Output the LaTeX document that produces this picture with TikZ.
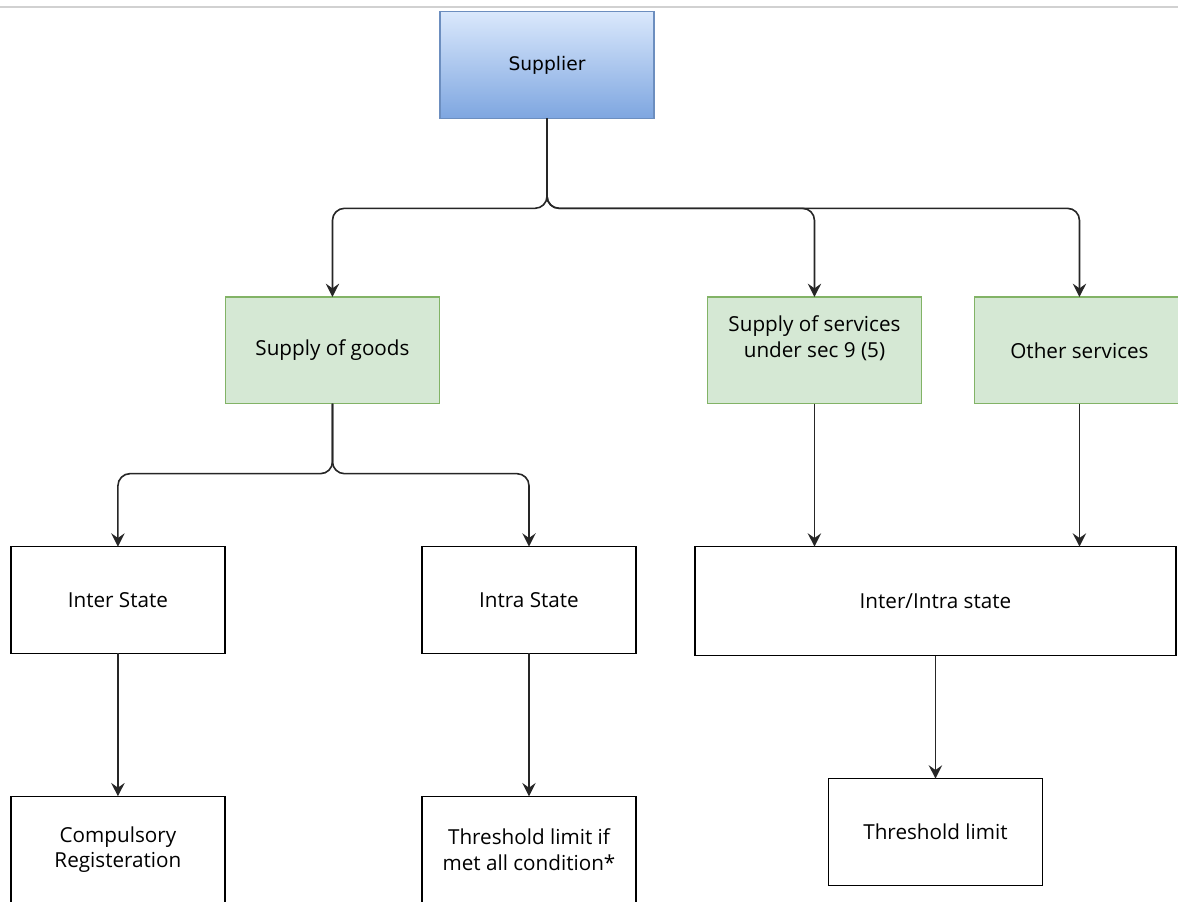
\documentclass[tikz,border=0pt]{standalone}
\usepackage{fontspec}
\setmainfont{Open Sans}
\newfontfamily\headfont{DejaVu Sans}
\usetikzlibrary{positioning}
\usetikzlibrary{arrows.meta}

\definecolor{headtop}{HTML}{DAE8FC}
\definecolor{headbot}{HTML}{7EA6E0}
\definecolor{headline}{HTML}{6C8EBF}
\definecolor{catfill}{HTML}{D5E8D4}
\definecolor{catline}{HTML}{82B366}

\begin{document}
\begin{tikzpicture}[
  x=0.75pt, y=0.75pt,
  font=\fontsize{15.5}{19}\selectfont,
  box/.style={draw, line width=1.1pt, align=center, minimum width=160.5pt, minimum height=80pt, inner sep=2pt, outer sep=0pt},
  head/.style={box, draw=headline, top color=headtop, bottom color=headbot, font=\headfont\fontsize{14}{18}\selectfont},
  cat/.style={box, draw=catline, fill=catfill},
  arrow/.style={-{Stealth[length=10pt, width=10pt, inset=3.5pt]}, line width=1.2pt, black!85, rounded corners=9pt}
]

\useasboundingbox (0,0) rectangle (1178,-902);
\clip (0,0) rectangle (1178,-902);
\fill[white] (0,0) rectangle (1178,-902);
\draw[black!18, line width=1.2pt] (0,-7) -- (1178,-7);

\node[head] (sup) at (547,-65) {Supplier};

% second row
\node[cat, below=134pt of sup, xshift=-160.9pt] (goods) {Supply of goods};
\node[cat, below=134pt of sup, xshift=200.6pt] (serv) {Supply of services\\under sec 9 (5)\\[-4pt]\strut};
\node[cat, right=39.75pt of serv, minimum width=157.5pt] (other) {Other services};

% third row
\node[box, below=107.25pt of goods, xshift=-160.9pt] (inter) {Inter State};
\node[box, below=107.25pt of goods, xshift=147.4pt] (intra) {Intra State};
\node[box, below=107.25pt of serv, xshift=90.75pt, minimum width=360.75pt, minimum height=81.75pt] (both) {Inter/Intra state};

% last row
\node[box, below=107.25pt of inter] (comp) {Compulsory\\Registeration};
\node[box, below=107.25pt of intra] (limitif) {Threshold limit if\\met all condition*};
\node[box, below=92.25pt of both] (limit) {Threshold limit};

\draw[arrow] (sup.south) -- ++(0,-90) -| (goods.north);
\draw[arrow] (sup.south) -- ++(0,-90) -| (serv.north);
\draw[arrow] (sup.south) -- ++(0,-90) -| (other.north);

\draw[arrow] (goods.south) -- ++(0,-70) -| (inter.north);
\draw[arrow] (goods.south) -- ++(0,-70) -| (intra.north);

\draw[arrow] (serv.south) -- (serv.south |- both.north);
\draw[arrow] (other.south) -- (other.south |- both.north);

\draw[arrow] (inter) -- (comp);
\draw[arrow] (intra) -- (limitif);
\draw[arrow] (both.south -| limit.north) -- (limit.north);

\end{tikzpicture}
\end{document}
